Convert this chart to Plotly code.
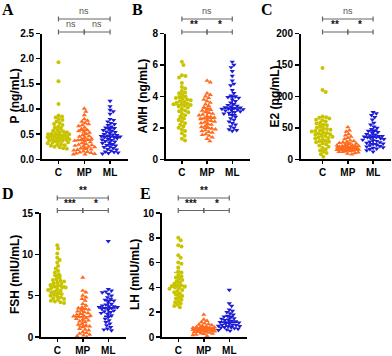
import numpy as np
import plotly.graph_objects as go

groups = ["C", "MP", "ML"]
colors = ["#c8c400", "#ff6a1e", "#1c1cd4"]
symbols = ["circle", "triangle-up", "triangle-down"]

# ---- Panel A: P (ng/mL)
p_C = [1.93, 1.55, 1.1, 0.87, 0.85, 0.83, 0.8, 0.78, 0.75, 0.72, 0.7, 0.68, 0.65, 0.63, 0.6, 0.58,
       0.57, 0.55, 0.54, 0.53, 0.52, 0.51, 0.5, 0.5, 0.49, 0.48, 0.47, 0.46, 0.45, 0.45, 0.44, 0.43,
       0.42, 0.41, 0.4, 0.4, 0.39, 0.38, 0.37, 0.36, 0.35, 0.34, 0.33, 0.32, 0.3, 0.29, 0.28, 0.27,
       0.25, 0.24, 0.22, 0.21]
p_MP = [1.01, 0.95, 0.88, 0.8, 0.77, 0.75, 0.72, 0.7, 0.68, 0.66, 0.63, 0.6, 0.58, 0.56, 0.55, 0.53,
        0.5, 0.48, 0.46, 0.45, 0.43, 0.41, 0.4, 0.39, 0.38, 0.37, 0.36, 0.34, 0.32, 0.3, 0.29, 0.28,
        0.27, 0.26, 0.25, 0.24, 0.22, 0.21, 0.2, 0.19, 0.18, 0.16, 0.15, 0.14, 0.13, 0.12, 0.11, 0.1, 0.1]
p_ML = [1.16, 1.05, 0.98, 0.95, 0.9, 0.8, 0.78, 0.75, 0.72, 0.7, 0.68, 0.65, 0.63, 0.62, 0.6, 0.58,
        0.57, 0.55, 0.54, 0.52, 0.5, 0.49, 0.48, 0.47, 0.46, 0.45, 0.45, 0.44, 0.43, 0.42, 0.4, 0.39,
        0.38, 0.36, 0.35, 0.33, 0.32, 0.3, 0.28, 0.27, 0.25, 0.24, 0.22, 0.2, 0.19, 0.17, 0.15, 0.14,
        0.13, 0.12, 0.11]

# ---- Panel B: AMH (ng/mL)
amh_C = [6.2, 6.0, 5.35, 5.3, 5.2, 4.85, 4.6, 4.5, 4.35, 4.25, 4.2, 4.1, 4.0, 3.95, 3.9, 3.85, 3.8,
         3.75, 3.7, 3.65, 3.6, 3.55, 3.5, 3.5, 3.45, 3.4, 3.35, 3.3, 3.2, 3.1, 3.05, 3.0, 2.9, 2.8,
         2.7, 2.6, 2.5, 2.4, 2.3, 2.2, 2.1, 2.0, 1.9, 1.8, 1.65, 1.5, 1.3, 1.2]
amh_MP = [5.0, 4.9, 4.2, 4.1, 4.0, 3.9, 3.8, 3.7, 3.6, 3.5, 3.4, 3.3, 3.2, 3.15, 3.1, 3.0, 2.95, 2.9,
          2.85, 2.8, 2.75, 2.7, 2.65, 2.6, 2.55, 2.5, 2.45, 2.4, 2.35, 2.3, 2.25, 2.2, 2.1, 2.05, 2.0,
          1.95, 1.9, 1.85, 1.8, 1.75, 1.7, 1.6, 1.55, 1.5, 1.4, 1.3, 1.15]
amh_ML = [6.2, 6.0, 5.85, 5.6, 5.3, 5.0, 4.8, 4.7, 4.4, 4.2, 4.05, 4.0, 3.95, 3.9, 3.8, 3.7, 3.6, 3.5,
          3.45, 3.4, 3.35, 3.3, 3.28, 3.25, 3.22, 3.2, 3.18, 3.15, 3.12, 3.1, 3.05, 3.0, 2.95, 2.9,
          2.8, 2.7, 2.6, 2.5, 2.4, 2.3, 2.2, 2.1, 2.0, 1.9, 1.85, 1.8]

# ---- Panel C: E2 (pg/mL)
e2_C = [145, 110, 107, 68, 67, 66, 65, 63, 62, 60, 58, 57, 55, 54, 52, 50, 49, 48, 47, 46, 45, 44,
        43, 42, 41, 40, 39, 38, 37, 36, 35, 34, 33, 32, 30, 29, 28, 27, 25, 24, 22, 20, 18, 16, 14,
        12, 10, 8, 4]
e2_MP = [51, 46, 44, 40, 38, 36, 34, 32, 30, 29, 28, 27, 26, 25, 24, 23, 22, 22, 21, 21, 20.5, 20,
         20, 19.5, 19, 19, 18.5, 18, 18, 17.5, 17, 17, 16.5, 16, 16, 15.5, 15, 15, 14.5, 14, 14, 13,
         13, 12, 12, 11, 10, 9, 8]
e2_ML = [75, 73, 70, 67, 63, 58, 55, 52, 50, 48, 46, 45, 43, 42, 40, 39, 38, 37, 37, 36, 36, 35, 35,
         34, 33, 32, 31, 30, 29, 28, 27, 26, 25, 24, 23, 22, 21, 20, 19, 18, 17, 16, 14, 12]

# ---- Panel D: FSH (mIU/mL)
fsh_C = [11.1, 10.7, 10.1, 9.6, 9.3, 9.0, 8.6, 8.3, 8.0, 7.8, 7.6, 7.4, 7.2, 7.0, 6.9, 6.8, 6.7, 6.6,
         6.5, 6.4, 6.3, 6.2, 6.1, 6.0, 6.0, 5.9, 5.8, 5.7, 5.6, 5.5, 5.4, 5.3, 5.2, 5.1, 5.0, 4.9,
         4.8, 4.7, 4.6, 4.5, 4.4, 4.3, 4.2, 4.1]
fsh_MP = [7.2, 5.6, 5.4, 5.0, 4.8, 4.6, 4.4, 4.0, 3.8, 3.6, 3.5, 3.4, 3.3, 3.2, 3.1, 3.0, 2.9, 2.8,
          2.7, 2.6, 2.6, 2.5, 2.4, 2.3, 2.2, 2.1, 2.0, 1.9, 1.8, 1.6, 1.5, 1.4, 1.3, 1.2, 1.0, 0.9,
          0.8, 0.6, 0.5, 0.4, 0.3, 0.2, 0.1, 0.0]
fsh_ML = [11.6, 5.8, 5.6, 5.5, 5.4, 5.2, 5.0, 4.8, 4.6, 4.5, 4.4, 4.2, 4.0, 3.9, 3.8, 3.7, 3.7, 3.6,
          3.6, 3.5, 3.5, 3.4, 3.3, 3.2, 3.1, 3.0, 2.9, 2.8, 2.6, 2.4, 2.2, 2.0, 1.8, 1.6, 1.4, 1.2,
          1.0, 0.9, 0.8]

# ---- Panel E: LH (mIU/mL)
lh_C = [8.0, 7.8, 7.4, 7.3, 6.6, 6.4, 6.0, 5.9, 5.6, 5.3, 5.2, 5.0, 4.9, 4.8, 4.7, 4.6, 4.5, 4.4,
        4.3, 4.2, 4.15, 4.1, 4.05, 4.0, 3.95, 3.9, 3.8, 3.7, 3.6, 3.5, 3.4, 3.3, 3.2, 3.1, 3.0, 2.9,
        2.8, 2.7, 2.6, 2.5, 2.4]
lh_MP = [1.8, 1.4, 1.3, 1.2, 1.1, 1.05, 1.0, 0.95, 0.9, 0.85, 0.8, 0.78, 0.75, 0.74, 0.72, 0.7,
         0.69, 0.68, 0.66, 0.65, 0.63, 0.62, 0.6, 0.58, 0.57, 0.55, 0.54, 0.52, 0.5, 0.48, 0.45,
         0.42, 0.4, 0.38, 0.35, 0.3, 0.28, 0.25, 0.2, 0.15, 0.1]
lh_ML = [3.8, 2.7, 2.5, 2.2, 2.1, 2.0, 1.9, 1.8, 1.7, 1.65, 1.6, 1.5, 1.45, 1.4, 1.35, 1.3, 1.25,
         1.2, 1.15, 1.1, 1.05, 1.0, 0.98, 0.95, 0.9, 0.88, 0.85, 0.8, 0.78, 0.75, 0.7, 0.65, 0.6,
         0.55, 0.5]

W, H = 392, 356

panels = [
    dict(letter="A", title="P (ng/mL)", data=[p_C, p_MP, p_ML], ymax=2.5, dtick=0.5, fmt="{:.1f}",
         left=41.7, s=25.8, L=-0.65, R=2.7, row=0, sig=["ns", "ns", "ns"], lx=8, ty=15),
    dict(letter="B", title="AMH (ng/mL)", data=[amh_C, amh_MP, amh_ML], ymax=8, dtick=2, fmt="{:.0f}",
         left=165.5, s=25.2, L=-0.65, R=2.7, row=0, sig=["ns", "**", "*"], lx=137, ty=143),
    dict(letter="C", title="E2 (pg/mL)", data=[e2_C, e2_MP, e2_ML], ymax=200, dtick=50, fmt="{:.0f}",
         left=300.5, s=25.3, L=-0.87, R=2.7, row=0, sig=["ns", "**", "*"], lx=267, ty=275),
    dict(letter="D", title="FSH (mIU/mL)", data=[fsh_C, fsh_MP, fsh_ML], ymax=15, dtick=5, fmt="{:.0f}",
         left=40.7, s=25.5, L=-0.65, R=2.7, row=1, sig=["**", "***", "*"], lx=8, ty=15),
    dict(letter="E", title="LH (mIU/mL)", data=[lh_C, lh_MP, lh_ML], ymax=10, dtick=2, fmt="{:.0f}",
         left=161.7, s=25.5, L=-0.65, R=2.7, row=1, sig=["**", "***", "*"], lx=145, ty=135),
]

rows = [dict(y0=159.3, y1=33.5, btop=19, blow=32, ttop=11, tlow=24.5),
        dict(y0=337.0, y1=213.0, btop=198, blow=210.5, ttop=190, tlow=203.3)]


def swarm(vals, ppu, d=3.4, step=0.4, cap=11.0):
    v = np.asarray(vals, float)
    order = np.argsort(-v)
    placed = []
    offs = np.zeros(len(v))
    cands = [0.0]
    j = 1
    while j * step <= cap:
        cands += [j * step, -j * step]
        j += 1
    for i in order:
        y = v[i] * ppu
        near = [(px, py) for px, py in placed if abs(py - y) < d]
        chosen, best = None, -1.0
        for c in cands:
            md = min([np.hypot(c - px, y - py) for px, py in near], default=99.0)
            if md >= d:
                chosen = c
                break
            if md > best:
                best, bestc = md, c
        if chosen is None:
            chosen = bestc
        placed.append((chosen, y))
        offs[i] = chosen
    return offs


fig = go.Figure()
layout = {}
shapes = []
annotations = []

sig_style = {"ns": dict(color="#555555", size=9, weight="normal"),
             "*": dict(color="#111111", size=10, weight="bold")}

for k, p in enumerate(panels):
    r = rows[p["row"]]
    idx = "" if k == 0 else str(k + 1)
    xa, ya = "xaxis" + idx, "yaxis" + idx
    xr, yr = "x" + idx, "y" + idx
    x0 = p["left"] / W
    x1 = min(1.0, (p["left"] + (p["R"] - p["L"]) * p["s"]) / W)
    ydom = [1 - r["y0"] / H, 1 - r["y1"] / H]
    ppu_y = (r["y0"] - r["y1"]) / p["ymax"]
    tv = list(np.arange(0, p["ymax"] + 1e-9, p["dtick"]))
    layout[xa] = dict(domain=[x0, x1], range=[p["L"], p["R"]], anchor=yr, tickvals=[0, 1, 2],
                      ticktext=groups, showline=True, linecolor="black", linewidth=1.5,
                      ticks="outside", ticklen=3, tickwidth=1.5, tickcolor="black",
                      showgrid=False, zeroline=False, fixedrange=True, automargin=False,
                      tickfont=dict(family="Liberation Sans, Arial", size=10, color="black", weight="bold"))
    layout[ya] = dict(domain=ydom, range=[0, p["ymax"]], anchor=xr, tickvals=tv,
                      ticktext=[p["fmt"].format(t) for t in tv], showline=True, linecolor="black",
                      linewidth=1.5, ticks="outside", ticklen=4, tickwidth=1.5, tickcolor="black",
                      showgrid=False, zeroline=False, fixedrange=True, automargin=False,
                      tickfont=dict(family="Liberation Sans, Arial", size=10, color="black", weight="bold"))

    for g, vals in enumerate(p["data"]):
        offs = swarm(vals, ppu_y) / p["s"]
        fig.add_trace(go.Scatter(x=g + offs, y=vals, mode="markers", xaxis=xr, yaxis=yr,
                                 marker=dict(color=colors[g], symbol=symbols[g],
                                             size=4.0 if g == 0 else 4.6, line=dict(width=0)),
                                 cliponaxis=False, showlegend=False, hoverinfo="skip"))
        v = np.asarray(vals, float)
        med = float(np.median(v))
        q1, q3 = float(np.percentile(v, 25)), float(np.percentile(v, 75))
        fig.add_trace(go.Scatter(x=[g - 0.33, g + 0.33, None, g, g, None, g - 0.17, g + 0.17, None,
                                    g - 0.17, g + 0.17],
                                 y=[med, med, None, q1, q3, None, q1, q1, None, q3, q3],
                                 mode="lines", xaxis=xr, yaxis=yr,
                                 line=dict(color=colors[g], width=1.6), cliponaxis=False,
                                 showlegend=False, hoverinfo="skip"))

    def ypx(py):
        return 1 - py / H
    bc = "#666666"
    for (ga, gb, by) in [(0, 2, r["btop"]), (0, 1, r["blow"]), (1, 2, r["blow"])]:
        shapes.append(dict(type="line", xref=xr, yref="paper", x0=ga, x1=gb, y0=ypx(by), y1=ypx(by),
                           line=dict(color=bc, width=1.2)))
        for gx in (ga, gb):
            shapes.append(dict(type="line", xref=xr, yref="paper", x0=gx, x1=gx,
                               y0=ypx(by - 2.5), y1=ypx(by + 2.5), line=dict(color=bc, width=1.2)))
    for txt, xc, ty in [(p["sig"][0], 1.0, r["ttop"]), (p["sig"][1], 0.5, r["tlow"]),
                        (p["sig"][2], 1.5, r["tlow"])]:
        st = sig_style["ns" if txt == "ns" else "*"]
        annotations.append(dict(text=txt, xref=xr, yref="paper", x=xc, y=ypx(ty), showarrow=False,
                                xanchor="center", yanchor="middle",
                                font=dict(family="Liberation Sans, Arial", size=st["size"],
                                          color=st["color"], weight=st["weight"])))

    ly = 9 if p["row"] == 0 else 193
    annotations.append(dict(text=p["letter"], xref="paper", yref="paper", x=p["lx"] / W, y=ypx(ly),
                            showarrow=False, xanchor="center", yanchor="middle",
                            font=dict(family="Liberation Serif, Times New Roman", size=16,
                                      color="black", weight="bold")))
    annotations.append(dict(text=p["title"], xref="paper", yref="paper", x=p["ty"] / W,
                            y=ypx((r["y0"] + r["y1"]) / 2), showarrow=False, textangle=-90,
                            xanchor="center", yanchor="middle",
                            font=dict(family="Liberation Sans, Arial", size=12, color="black",
                                      weight="bold")))

fig.update_layout(width=W, height=H, margin=dict(l=0, r=0, t=0, b=0, autoexpand=False),
                  plot_bgcolor="white", paper_bgcolor="white", template="none",
                  shapes=shapes, annotations=annotations, **layout)
fig.write_html("out.html", config={"displayModeBar": False, "staticPlot": True},
               post_script="document.body.style.margin='0';document.body.style.overflow='hidden';")
